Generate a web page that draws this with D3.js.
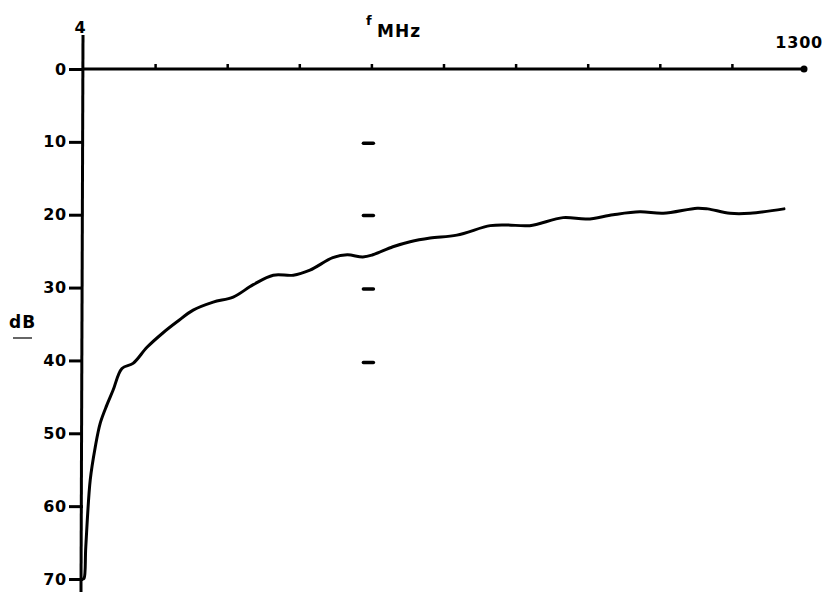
<!DOCTYPE html>
<html>
<head>
<meta charset="utf-8">
<script src="https://cdn.jsdelivr.net/npm/d3@7"></script>
<style>
  body { margin: 0; background: #fff; }
  svg text { font-family: "DejaVu Sans", sans-serif; font-weight: bold; fill: #000; }
</style>
</head>
<body>
<div id="chart"></div>
<script>
// attenuation vs frequency
var freqMHz = [4, 6, 9, 17, 26, 35, 47, 58, 74, 94, 119, 148, 173, 202, 238, 274, 310, 346, 382, 412,
               453, 479, 507, 525, 561, 592, 628, 676, 736, 766, 807, 867, 910, 957, 1005, 1047, 1108, 1127, 1167, 1203, 1264];
var attenDb = [70, 69.9, 65.6, 56.4, 51.9, 48.6, 46.1, 44.1, 41.1, 40.4, 38.2, 36.2, 34.7, 33.1, 32.0, 31.3, 29.6, 28.3, 28.3, 27.6,
               25.9, 25.5, 25.8, 25.5, 24.4, 23.7, 23.2, 22.8, 21.5, 21.4, 21.5, 20.4, 20.6, 20.0, 19.6, 19.8, 19.1, 19.2, 19.8, 19.8, 19.2];

var dbTicks = [0, 10, 20, 30, 40, 50, 60, 70];
var freqTicks = d3.range(11).map(function(i) { return 4 + i * 129.6; });
var markFreq = 517;
var markDb = [10.2, 20.1, 30.2, 40.3];

var width = 827, height = 593;

var x = d3.scaleLinear().domain([4, 1300]).range([83, 804]);
var y = d3.scaleLinear().domain([0, 70]).range([69, 579]);

var svg = d3.select("#chart").append("svg")
    .attr("width", width)
    .attr("height", height);

// vertical axis line, runs past both ends
svg.append("line")
    .attr("x1", x(4)).attr("x2", x(4) - 2)
    .attr("y1", 35).attr("y2", 592)
    .attr("stroke", "#000").attr("stroke-width", 3);

// top frequency axis
var xAxis = d3.axisTop(x)
    .tickValues(freqTicks.slice(1, -1))
    .tickSize(5)
    .tickFormat("");

svg.append("g")
    .attr("class", "x axis")
    .attr("transform", "translate(0," + y(0) + ")")
    .call(xAxis)
    .call(function(g) {
        g.select(".domain").attr("stroke-width", 3).attr("d", "M" + x(4) + ",0H" + x(1300));
        g.selectAll(".tick line").attr("stroke-width", 2.5);
    });

svg.append("circle")
    .attr("cx", x(1300)).attr("cy", y(0)).attr("r", 3.5);

// left dB axis
var yAxis = d3.axisLeft(y)
    .tickValues(dbTicks)
    .tickSize(14)
    .tickPadding(2);

svg.append("g")
    .attr("class", "y axis")
    .attr("transform", "translate(" + x(4) + ",0)")
    .call(yAxis)
    .call(function(g) {
        g.select(".domain").remove();
        g.selectAll(".tick line").attr("stroke-width", 3);
        g.selectAll(".tick text")
            .style("font-size", "16px")
            .style("letter-spacing", "0.8px");
    });

// axis labels
svg.append("text")
    .attr("x", x(4) - 3).attr("y", 33)
    .attr("text-anchor", "middle")
    .style("font-size", "16px")
    .text("4");

svg.append("text")
    .attr("x", 823).attr("y", 48)
    .attr("text-anchor", "end")
    .style("font-size", "16px")
    .style("letter-spacing", "0.8px")
    .text("1300");

svg.append("text")
    .attr("x", 366).attr("y", 25)
    .style("font-size", "13px")
    .text("f");

svg.append("text")
    .attr("x", 377).attr("y", 37)
    .style("font-size", "17px")
    .style("letter-spacing", "1px")
    .text("MHz");

svg.append("text")
    .attr("x", 9).attr("y", 328)
    .style("font-size", "17px")
    .style("letter-spacing", "1px")
    .text("dB");

svg.append("line")
    .attr("x1", 13).attr("x2", 32)
    .attr("y1", 338).attr("y2", 338)
    .attr("stroke", "#000").attr("stroke-width", 1.2);

// short marks at mid band
svg.append("g").selectAll("line")
    .data(markDb)
    .join("line")
    .attr("x1", x(markFreq) - 5).attr("x2", x(markFreq) + 5)
    .attr("y1", function(d) { return y(d); })
    .attr("y2", function(d) { return y(d); })
    .attr("stroke", "#000").attr("stroke-width", 3.5)
    .attr("stroke-linecap", "round");

// curve
var line = d3.line()
    .x(function(d, i) { return x(freqMHz[i]); })
    .y(function(d) { return y(d); })
    .curve(d3.curveCatmullRom);

svg.append("path")
    .datum(attenDb)
    .attr("d", line)
    .attr("fill", "none")
    .attr("stroke", "#000")
    .attr("stroke-width", 3)
    .attr("stroke-linejoin", "round")
    .attr("stroke-linecap", "round");
</script>
</body>
</html>
